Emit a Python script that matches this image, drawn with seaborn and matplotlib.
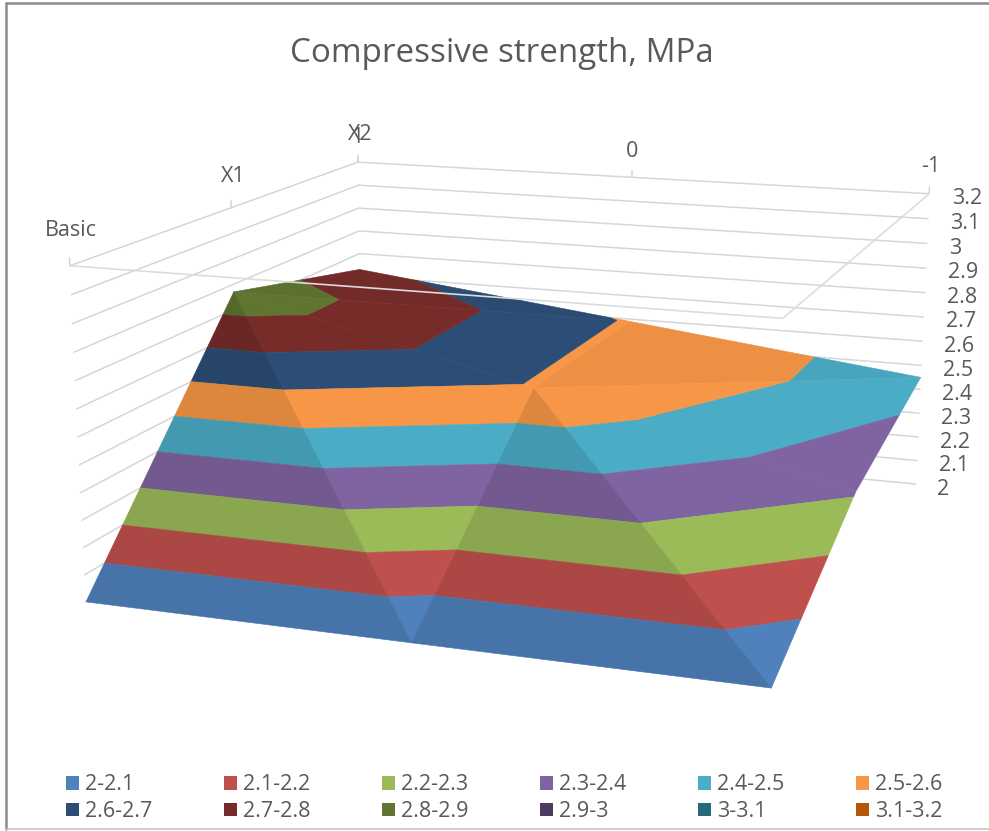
import numpy as np
import matplotlib
matplotlib.use("Agg")
import matplotlib.pyplot as plt
from matplotlib.lines import Line2D
from matplotlib.patches import Patch
from mpl_toolkits.mplot3d.art3d import Poly3DCollection
import seaborn as sns

TITLE = "Compressive strength, MPa"
FIG_W, FIG_H = 989, 831

# surface data, rows go from front to back
x_values = [1, 0, -1]
depth_positions = [0, 1, 2]
depth_labels = ["Basic", "X1", "X2"]
z_basic = [2.0, 2.0, 2.0]
z_x1 = [2.87, 2.59, 2.31]
z_x2 = [2.73, 2.59, 2.45]

z_ticks = [2, 2.1, 2.2, 2.3, 2.4, 2.5, 2.6, 2.7, 2.8, 2.9, 3, 3.1, 3.2]
band_labels = ["2-2.1", "2.1-2.2", "2.2-2.3", "2.3-2.4", "2.4-2.5", "2.5-2.6",
               "2.6-2.7", "2.7-2.8", "2.8-2.9", "2.9-3", "3-3.1", "3.1-3.2"]
band_colors = ["#4F81BD", "#C0504D", "#9BBB59", "#8064A2", "#4BACC6", "#F79646",
               "#2C4D75", "#772C2A", "#5F7530", "#4D3B62", "#276A7C", "#B65708"]

# grid triangles as (row, col) vertices, with their shading
triangles = [
    ((0, 0), (0, 1), (1, 0)),
    ((1, 0), (0, 1), (1, 1)),
    ((0, 1), (0, 2), (1, 1)),
    ((1, 1), (0, 2), (1, 2)),
    ((1, 0), (1, 1), (2, 1)),
    ((1, 0), (2, 1), (2, 0)),
    ((1, 1), (2, 2), (2, 1)),
    ((1, 1), (1, 2), (2, 2)),
]
triangle_shades = [0.89, 1.0, 0.89, 1.0, 1.0, 0.97, 0.96, 1.0]

# box corners (x, depth, z) and where the Excel camera puts them on the page
camera_world = [(1, 0, 3.2), (1, 2, 3.2), (-1, 2, 3.2), (-1, 0, 3.2), (1, 0, 2),
                (-1, 0, 2), (-1, 2, 2), (1, 1, 3.2), (0, 2, 3.2)]
camera_page = [(70, 265), (358, 162), (929, 193), (783, 319), (86, 602),
               (771, 688), (916, 484), (231, 208), (632, 178)]


def camera_matrix(world, page):
    rows, rhs = [], []
    for (x, y, z), (u, v) in zip(world, page):
        rows.append([x, y, z, 1, 0, 0, 0, 0, -u * x, -u * y, -u * z])
        rows.append([0, 0, 0, 0, x, y, z, 1, -v * x, -v * y, -v * z])
        rhs += [u, v]
    p = np.linalg.lstsq(np.array(rows, float), np.array(rhs, float), rcond=None)[0]
    return np.array([p[:4], p[4:8], [0, 1, 0, 0], [p[8], p[9], p[10], 1.0]])


def clip_poly(poly, level, keep_above):
    out = []
    for i, a in enumerate(poly):
        b = poly[(i + 1) % len(poly)]
        a_in = a[2] >= level if keep_above else a[2] <= level
        b_in = b[2] >= level if keep_above else b[2] <= level
        if a_in:
            out.append(a)
        if a_in != b_in:
            t = (level - a[2]) / (b[2] - a[2])
            out.append(tuple(a[k] + t * (b[k] - a[k]) for k in range(3)))
    return out


def surface_polys(z_grid, palette):
    polys, colors = [], []
    for tri, shade in zip(triangles, triangle_shades):
        pts = [(x_values[c], depth_positions[r], z_grid[r][c]) for r, c in tri]
        for i, color in enumerate(palette):
            poly = clip_poly(pts, z_ticks[i], True)
            if poly:
                poly = clip_poly(poly, z_ticks[i + 1], False)
            if len(poly) >= 3:
                polys.append(poly)
                colors.append(tuple(np.array(color) * shade))
    return polys, colors


def label_at(x, y, z, text, dx=0, dy=0, **kwargs):
    # tick labels sit on the page at the projected tick position
    u, v, _, w = M @ np.array([x, y, z, 1.0])
    fig.text((u / w + dx) / FIG_W, 1 - (v / w + dy) / FIG_H, text, va="center",
             color=text_color, **kwargs)


sns.set_theme(style="white", font="Open Sans")
text_color = "#595959"
grid_color = "#d6d6d6"
palette = sns.color_palette(band_colors)

fig = plt.figure(figsize=(FIG_W / 100, FIG_H / 100), dpi=100)
ax = fig.add_subplot(projection="3d", computed_zorder=False)
ax.set_position([0, -79 / FIG_H, 1, FIG_W / FIG_H])
ax.set_proj_type("ortho")
ax.set_axis_off()
ax.patch.set_visible(False)
M = camera_matrix(camera_world, camera_page)
ax.get_proj = lambda: M
ax.viewLim.intervalx = (0, FIG_W)
ax.viewLim.intervaly = (910, -79)

# walls
x_left, x_right = x_values[0], x_values[-1]
d_front, d_back = depth_positions[0], depth_positions[-1]
z_top = z_ticks[-1]
for z in z_ticks:
    ax.plot([x_left, x_left, x_right], [d_front, d_back, d_back], [z, z, z],
            color=grid_color, lw=1.1, zorder=1)

# surface bands
z_grid = [z_basic, z_x1, z_x2]
polys, colors = surface_polys(z_grid, palette)
surface = Poly3DCollection(polys, facecolors=colors, edgecolors=colors,
                           linewidths=0.4, zorder=2)
ax.add_collection3d(surface, autolim=False)

# top outline runs in front of the surface
ax.plot([x_left, x_right, x_right], [d_front, d_front, d_back], [z_top] * 3,
        color="#dcdcdc", lw=1.2, zorder=3)

# tick marks and labels
for x in x_values:
    ax.plot([x, x], [d_back, d_back], [z_top, z_top + 0.028], color=grid_color, lw=1.1, zorder=1)
    label_at(x, d_back, z_top + 0.125, str(x), dy=4, ha="center", fontsize=15.5)
for d, label in zip(depth_positions, depth_labels):
    ax.plot([x_left, x_left], [d, d], [z_top, z_top + 0.028], color=grid_color, lw=1.1, zorder=1)
    label_at(x_left, d, z_top + 0.135, label, dx=3, dy=4, ha="center", fontsize=15.5)
for z in z_ticks:
    label_at(x_right - 0.085, d_back, z, f"{z:g}", dx=-4, dy=3, ha="left", fontsize=15.5)

fig.text(502 / FIG_W, 1 - 53 / FIG_H, TITLE, ha="center", va="center",
         color=text_color, fontsize=23.9)

# legend fills by column, so pair the two rows up
handles = [Patch(facecolor=c, edgecolor="none") for c in palette]
order = [i + j for i in range(6) for j in (0, 6)]
fig.legend([handles[i] for i in order], [band_labels[i] for i in order], ncol=6,
           loc="lower left", bbox_to_anchor=(66 / FIG_W, 1 - 822 / FIG_H), frameon=False,
           prop={"size": 15.5}, labelcolor=text_color, handlelength=0.6, handleheight=0.6,
           handletextpad=0.28, columnspacing=3.33, labelspacing=0.26, borderpad=0, borderaxespad=0)

# chart frame from the screenshot
frame = [((6, 6), (3, 829), "#8c8c8c", 1.8), ((6, 989), (3, 3), "#8c8c8c", 1.8),
         ((6, 989), (829, 829), "#bfbfbf", 1.1)]
for xs, ys, color, lw in frame:
    fig.add_artist(Line2D([v / FIG_W for v in xs], [1 - v / FIG_H for v in ys],
                          color=color, lw=lw, transform=fig.transFigure))

fig.savefig("out.png", dpi=100)
